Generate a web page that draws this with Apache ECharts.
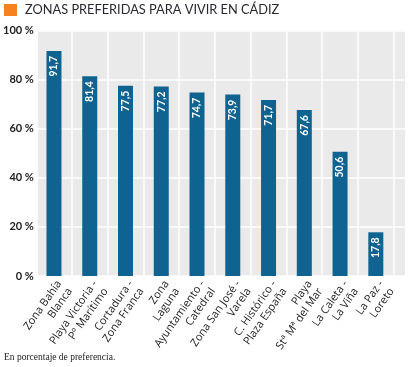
<!DOCTYPE html>
<html>
<head>
<meta charset="utf-8">
<script src="https://cdn.jsdelivr.net/npm/echarts@6/dist/echarts.min.js"></script>
<style>
html,body{margin:0;padding:0;background:#fff;}
#c{width:411px;height:367px;}
</style>
</head>
<body>
<div id="c"></div>
<script>
const categories = [
  "Zona Bahía\nBlanca",
  "Playa Victoria -\nPº Marítimo",
  "Cortadura -\nZona Franca",
  "Zona\nLaguna",
  "Ayuntamiento -\nCatedral",
  "Zona San José -\nVarela",
  "C. Histórico -\nPlaza España",
  "Playa\nStª Mª del Mar",
  "La Caleta -\nLa Viña",
  "La Paz -\nLoreto"
];
const values = [91.7, 81.4, 77.5, 77.2, 74.7, 73.9, 71.7, 67.6, 50.6, 17.8];
const yTicks = [0, 20, 40, 60, 80, 100];
const title = "ZONAS PREFERIDAS PARA VIVIR EN CÁDIZ";
const footnote = "En porcentaje de preferencia.";

const chart = echarts.init(document.getElementById('c'), null, {renderer: 'canvas'});
const TOP = 30.5, BOTTOM = 91;
chart.setOption({
  animation: false,
  backgroundColor: '#ffffff',
  graphic: [
    {type: 'rect', left: 4, top: 4, shape: {width: 13, height: 12}, style: {fill: '#f5821f'}},
    {type: 'text', left: 25, top: 3, style: {text: title, font: '12.8px Lato', fill: '#2a2733'}},
    {type: 'text', left: 4, top: 352, style: {text: footnote, font: '9.5px "Liberation Serif"', fill: '#222'}}
  ],
  grid: [
    {left: 33, right: 6, top: TOP, bottom: BOTTOM, show: true, backgroundColor: '#eaeaea', borderWidth: 0, containLabel: false},
    {left: 36.1, width: 357.6, top: TOP, bottom: BOTTOM, containLabel: false}
  ],
  xAxis: [
    {type: 'value', gridIndex: 0, min: 0, max: 1, show: false},
    {
      type: 'category', gridIndex: 1, data: categories,
      axisLine: {show: false}, axisTick: {show: false},
      splitLine: {show: true, showMinLine: false, showMaxLine: true, lineStyle: {color: '#ffffff', width: 1.5}},
      axisLabel: {
        interval: 0, rotate: 55, margin: 2, fontSize: 11, lineHeight: 13,
        fontFamily: '"Open Sans"', color: '#222', align: 'right', verticalAlign: 'top'
      }
    }
  ],
  yAxis: [
    {
      type: 'value', gridIndex: 0, min: 0, max: 100, interval: 20,
      axisLine: {show: false}, axisTick: {show: false},
      splitLine: {show: true, lineStyle: {color: '#ffffff', width: 1.5}},
      axisLabel: {
        margin: 4, fontSize: 11, fontWeight: 'bold', fontFamily: 'Lato', color: '#222',
        formatter: v => yTicks.includes(v) ? v + ' %' : ''
      }
    },
    {type: 'value', gridIndex: 1, min: 0, max: 100, show: false}
  ],
  series: [{
    type: 'bar', xAxisIndex: 1, yAxisIndex: 1, data: values, barWidth: 15,
    itemStyle: {color: '#0f6391'},
    label: {
      show: true, position: 'insideTop', distance: 5, rotate: 90,
      align: 'right', verticalAlign: 'middle',
      color: '#fff', fontWeight: 'bold', fontSize: 10.5, fontFamily: 'Lato',
      formatter: p => String(p.value).replace('.', ',')
    }
  }]
});
</script>
</body>
</html>
